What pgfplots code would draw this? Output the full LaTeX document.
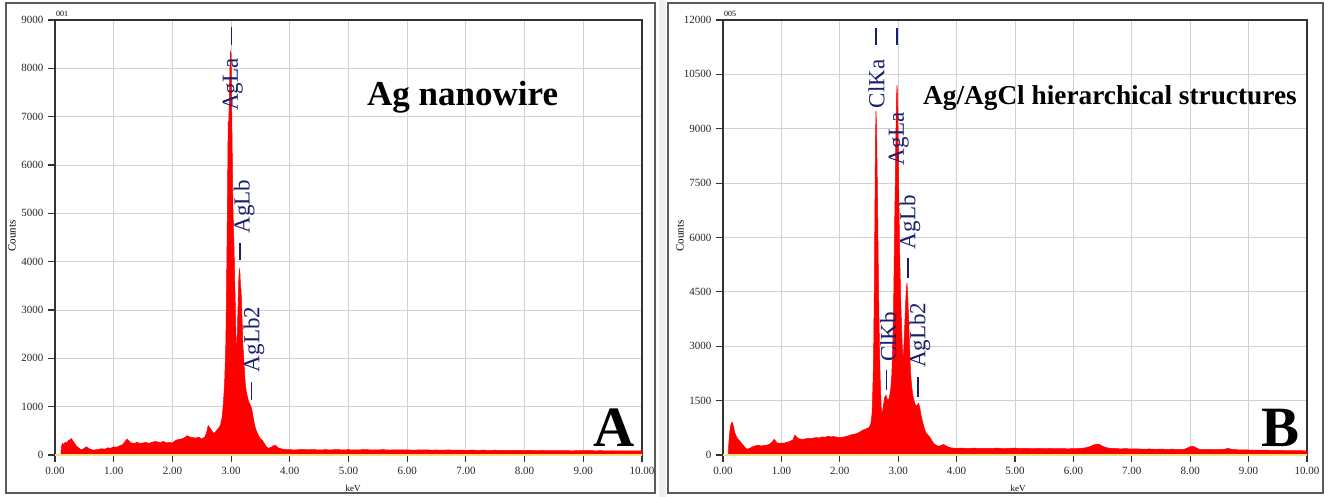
\documentclass[border=0pt]{standalone}
\usepackage{fontspec}
\setmainfont{Liberation Serif}
\usepackage{pgfplots}
\pgfplotsset{compat=1.18}
\definecolor{navy}{HTML}{18206E}
\definecolor{specred}{HTML}{FF0000}
\definecolor{gridgray}{HTML}{D2D2D2}
\definecolor{baseyellow}{HTML}{F3E07A}
\definecolor{framegray}{HTML}{5A5A5A}

\pgfplotstableread{
x y
0.10 0
0.11 180
0.13 240
0.15 220
0.17 260
0.20 250
0.23 300
0.26 320
0.28 340
0.30 300
0.33 250
0.36 190
0.40 150
0.43 120
0.46 110
0.50 140
0.53 170
0.56 150
0.60 120
0.65 100
0.70 110
0.75 120
0.80 130
0.85 120
0.90 150
0.95 140
1.00 170
1.05 160
1.10 190
1.15 210
1.20 290
1.23 330
1.26 290
1.30 250
1.35 240
1.40 260
1.45 240
1.50 250
1.55 260
1.60 240
1.65 260
1.70 280
1.75 270
1.80 260
1.85 280
1.90 250
1.95 260
2.00 250
2.05 300
2.10 320
2.15 330
2.20 350
2.25 400
2.30 370
2.35 360
2.40 350
2.45 370
2.50 330
2.55 370
2.58 450
2.61 610
2.64 560
2.67 500
2.70 450
2.73 470
2.76 520
2.79 560
2.82 620
2.85 800
2.87 1100
2.89 1500
2.91 2300
2.92 3200
2.93 4300
2.94 5500
2.95 6900
2.96 6900
2.97 7300
2.98 8000
2.99 8350
3.00 8300
3.01 7200
3.02 6200
3.03 5200
3.04 4700
3.05 4300
3.06 3700
3.07 3200
3.08 2600
3.09 2150
3.10 2300
3.11 2700
3.12 3200
3.13 3600
3.14 3850
3.15 3800
3.16 3500
3.17 3400
3.18 3100
3.19 2700
3.20 2300
3.22 1900
3.24 1500
3.26 1300
3.28 1200
3.30 1100
3.32 1050
3.34 1000
3.36 900
3.38 750
3.40 620
3.43 500
3.46 420
3.50 330
3.53 310
3.56 250
3.60 170
3.64 140
3.68 160
3.72 190
3.76 200
3.80 150
3.85 130
3.90 115
4.0 110
4.1 105
4.2 115
4.3 108
4.4 112
4.5 104
4.6 110
4.7 106
4.8 113
4.9 105
5.0 110
5.1 104
5.2 108
5.3 112
5.4 103
5.5 107
5.6 110
5.7 102
5.8 108
5.9 104
6.0 106
6.1 100
6.2 105
6.3 108
6.4 101
6.5 104
6.6 99
6.7 105
6.8 100
6.9 103
7.0 97
7.1 101
7.2 96
7.3 100
7.4 95
7.5 99
7.6 94
7.7 98
7.8 93
7.9 96
8.0 92
8.1 96
8.2 90
8.3 94
8.4 89
8.5 92
8.6 88
8.7 91
8.8 86
8.9 90
9.0 88
9.1 95
9.2 86
9.3 89
9.4 85
9.5 88
9.6 84
9.7 87
9.8 83
9.9 86
10.0 84
}\specA

\pgfplotstableread{
x y
0.09 0
0.10 350
0.12 700
0.14 880
0.16 900
0.18 780
0.20 620
0.23 500
0.26 430
0.30 360
0.34 280
0.38 200
0.41 160
0.45 180
0.50 220
0.55 250
0.60 270
0.65 250
0.70 260
0.75 270
0.80 300
0.85 380
0.88 430
0.92 340
0.96 320
1.00 330
1.05 330
1.10 350
1.15 380
1.20 420
1.23 550
1.27 480
1.30 450
1.35 430
1.40 440
1.45 460
1.50 450
1.55 470
1.60 480
1.65 470
1.70 500
1.75 490
1.80 520
1.85 500
1.90 510
1.95 490
2.00 480
2.05 490
2.10 510
2.15 530
2.20 560
2.25 570
2.30 600
2.35 640
2.40 690
2.45 720
2.50 760
2.53 850
2.55 1100
2.56 1500
2.57 2100
2.58 2900
2.59 4500
2.60 6500
2.61 8700
2.62 9500
2.63 9000
2.64 7800
2.65 6500
2.66 5000
2.67 3900
2.68 2900
2.69 2200
2.70 1700
2.71 1300
2.72 1150
2.73 1200
2.75 1400
2.77 1600
2.79 1650
2.81 1550
2.83 1500
2.85 1600
2.87 1800
2.89 2200
2.90 2700
2.91 3300
2.92 4000
2.93 5200
2.94 6500
2.95 7500
2.96 8800
2.97 9800
2.98 10200
2.99 9900
3.00 8600
3.01 7200
3.02 6100
3.03 5200
3.04 4500
3.05 3900
3.06 3400
3.07 3000
3.08 2700
3.09 2750
3.10 3100
3.11 3500
3.12 3900
3.13 4300
3.14 4600
3.15 4750
3.16 4500
3.17 4100
3.18 3700
3.19 3200
3.20 2800
3.21 2300
3.23 1900
3.25 1650
3.27 1500
3.29 1400
3.31 1350
3.33 1380
3.35 1430
3.37 1300
3.39 1100
3.42 900
3.45 720
3.48 600
3.52 530
3.55 470
3.58 380
3.62 300
3.66 260
3.70 240
3.74 270
3.78 290
3.82 250
3.86 220
3.90 200
3.95 190
4.0 185
4.1 190
4.2 180
4.3 192
4.4 178
4.5 186
4.6 180
4.7 190
4.8 176
4.9 185
5.0 190
5.1 178
5.2 184
5.3 175
5.4 182
5.5 176
5.6 180
5.7 172
5.8 178
5.9 170
6.0 176
6.1 180
6.2 195
6.3 240
6.35 280
6.4 300
6.45 290
6.5 240
6.55 210
6.6 190
6.7 180
6.8 170
6.9 175
7.0 165
7.1 170
7.2 160
7.3 166
7.4 158
7.5 162
7.6 155
7.7 160
7.8 152
7.9 158
7.95 190
8.0 230
8.05 240
8.1 200
8.15 160
8.2 150
8.3 155
8.4 148
8.5 152
8.6 160
8.65 185
8.7 160
8.8 145
8.9 140
9.0 138
9.1 135
9.2 132
9.3 134
9.4 128
9.5 126
9.6 124
9.7 122
9.8 120
9.9 118
10.0 115
}\specB

\pgfplotsset{
  edsaxis/.style={
    scale only axis,
    height=435pt,
    xmin=0, xmax=10,
    xtick={0,1,...,10},
    xticklabels={0.00,1.00,2.00,3.00,4.00,5.00,6.00,7.00,8.00,9.00,10.00},
    grid=major,
    grid style={gridgray, line width=0.9pt},
    axis line style={black!80, line width=1.1pt},
    tick style={black!80, line width=1.1pt},
    tick align=outside,
    major tick length=7pt,
    xtick pos=bottom, ytick pos=left,
    ticklabel style={font=\fontsize{11}{12}\selectfont, black!85},
    xticklabel style={yshift=-2pt},
    yticklabel style={xshift=-1pt},
    /pgf/number format/assume math mode=true,
    scaled ticks=false,
    clip=false,
  },
}
\tikzset{
  peaklab/.style={navy, rotate=90, font=\fontsize{23}{25}\selectfont, inner sep=0pt},
  peakdash/.style={navy, line width=1.5pt},
}

\begin{document}
\begin{tikzpicture}[x=1pt,y=1pt]
\path[use as bounding box] (0,0) rectangle (1331,497);
\fill[white] (0,0) rectangle (1331,497);
\fill[blue!4!gray!12] (659,0) rectangle (666,497);
\draw[framegray, line width=1.6pt] (6,4) rectangle (655,494);
\draw[framegray, line width=1.6pt] (668,4) rectangle (1323,494);

% Panel A
\begin{axis}[edsaxis, at={(55pt,42pt)}, anchor=south west, width=587pt,
  ymin=0, ymax=9000,
  ytick={0,1000,...,9000},
  yticklabels={0,1000,2000,3000,4000,5000,6000,7000,8000,9000}]
\addplot[draw=specred, fill=specred, line width=0.5pt] table[x=x,y=y] {\specA} \closedcycle;
\draw[baseyellow, line width=2.4pt] (axis cs:0,0) -- (axis cs:10,0);
\draw[peakdash] (axis cs:3.01,8480) -- (axis cs:3.01,8860);
\node[peaklab] at (axis cs:3.03,7660) {AgLa};
\draw[peakdash] (axis cs:3.15,4030) -- (axis cs:3.15,4390);
\node[peaklab] at (axis cs:3.22,5140) {AgLb};
\draw[peakdash] (axis cs:3.35,1140) -- (axis cs:3.35,1510);
\node[peaklab] at (axis cs:3.39,2390) {AgLb2};
\end{axis}

% Panel B
\begin{axis}[edsaxis, at={(723pt,42pt)}, anchor=south west, width=584pt,
  ymin=0, ymax=12000,
  ytick={0,1500,...,12000},
  yticklabels={0,1500,3000,4500,6000,7500,9000,10500,12000}]
\addplot[draw=specred, fill=specred, line width=0.5pt] table[x=x,y=y] {\specB} \closedcycle;
\draw[baseyellow, line width=2.4pt] (axis cs:0,0) -- (axis cs:10,0);
\draw[peakdash] (axis cs:2.62,11310) -- (axis cs:2.62,11780);
\node[peaklab] at (axis cs:2.63,10240) {ClKa};
\draw[peakdash] (axis cs:2.98,11310) -- (axis cs:2.98,11780);
\node[peaklab] at (axis cs:3.01,8720) {AgLa};
\draw[peakdash] (axis cs:3.17,4880) -- (axis cs:3.17,5430);
\node[peaklab] at (axis cs:3.20,6420) {AgLb};
\draw[peakdash] (axis cs:2.80,1790) -- (axis cs:2.80,2340);
\node[peaklab] at (axis cs:2.83,3260) {ClKb};
\draw[peakdash] (axis cs:3.34,1600) -- (axis cs:3.34,2150);
\node[peaklab] at (axis cs:3.37,3300) {AgLb2};
\end{axis}

% outside texts
\node[anchor=base west, font=\fontsize{8}{9}\selectfont, inner sep=0pt] at (56,480) {001};
\node[anchor=base west, font=\fontsize{8}{9}\selectfont, inner sep=0pt] at (724,480) {005};
\node[rotate=90, font=\fontsize{11}{12}\selectfont, inner sep=0pt] at (12,261) {Counts};
\node[rotate=90, font=\fontsize{11}{12}\selectfont, inner sep=0pt] at (680,261) {Counts};
\node[font=\fontsize{9}{10}\selectfont, inner sep=0pt] at (353,9) {keV};
\node[font=\fontsize{9}{10}\selectfont, inner sep=0pt] at (1018,9) {keV};
\node[anchor=base west, font=\fontsize{35}{38}\selectfont\bfseries, inner sep=0pt] at (367,391) {Ag nanowire};
\node[anchor=base west, font=\fontsize{27.3}{30}\selectfont\bfseries, inner sep=0pt] at (923,392) {Ag/AgCl hierarchical structures};
\node[anchor=base west, font=\fontsize{57}{60}\selectfont\bfseries, inner sep=0pt] at (593,50) {A};
\node[anchor=base west, font=\fontsize{57}{60}\selectfont\bfseries, inner sep=0pt] at (1261,50) {B};
\end{tikzpicture}
\end{document}
